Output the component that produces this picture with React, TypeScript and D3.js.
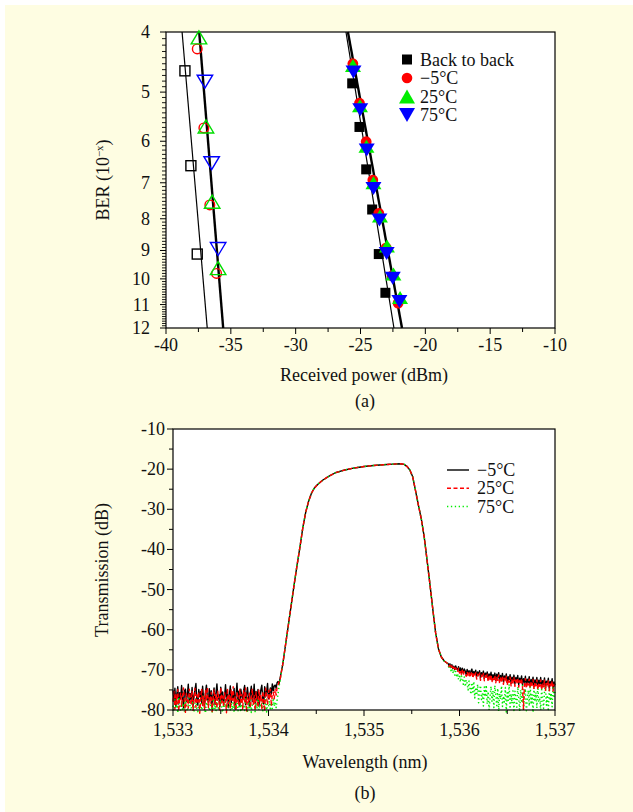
import React from 'react';
import * as d3 from 'd3';

const FONT = '"Liberation Serif", "Times New Roman", Times, serif';

// ---------- (a) BER vs received power ----------
const powerTicks = [-40, -35, -30, -25, -20, -15, -10];
const berTicks = [4, 5, 6, 7, 8, 9, 10, 11, 12];

// filled markers (right group)
const b2bPower = [-25.64, -25.08, -24.56, -24.1, -23.59, -23.08];
const b2bBer = [4.84, 5.69, 6.66, 7.73, 9.12, 10.53];
const m5Power = [-25.59, -25.08, -24.56, -24.05, -23.59, -23.02, -22.56, -22.1];
const m5Ber = [4.5, 5.21, 6.01, 6.93, 7.84, 8.91, 9.89, 10.94];
const t25Power = [-25.58, -25.04, -24.54, -24.0, -23.5, -22.96, -22.46, -21.95];
const t25Ber = [4.53, 5.26, 6.11, 7.0, 7.92, 8.85, 9.82, 10.72];
const t75Power = [-25.54, -25.02, -24.52, -24.0, -23.54, -22.98, -22.51, -22.0];
const t75Ber = [4.64, 5.34, 6.2, 7.15, 8.04, 9.1, 9.98, 10.88];

// open markers (left group)
const b2bOpenPower = [-38.54, -38.08, -37.59];
const b2bOpenBer = [4.62, 6.57, 9.12];
const m5OpenPower = [-37.59, -37.08, -36.62, -36.1];
const m5OpenBer = [4.26, 5.71, 7.6, 9.8];
const t25OpenPower = [-37.46, -36.92, -36.44, -35.98];
const t25OpenBer = [4.08, 5.68, 7.51, 9.61];
const t75OpenPower = [-37.0, -36.48, -35.98];
const t75OpenBer = [4.81, 6.51, 8.95];

// fitted lines: [power at BER 4, power at BER 12]
const fitLeftThin = [-38.76, -36.82];
const fitLeftThick = [-37.44, -35.59];
const fitRightThin = [-26.12, -22.42];
const fitRightThick = [-25.97, -21.8];

const legendA = ['Back to back', '\u22125\u00B0C', '25\u00B0C', '75\u00B0C'];

// ---------- (b) transmission spectrum ----------
const wlTicks = [1533, 1534, 1535, 1536, 1537];
const dbTicks = [-10, -20, -30, -40, -50, -60, -70, -80];
const legendB = ['\u22125\u00B0C', '25\u00B0C', '75\u00B0C'];

// noise floor 1533.00 .. 1534.12 (0.01 nm step)
const floorM5 = [
  -75.1, -77.8, -74.6, -79.2, -76.0, -74.2, -78.5, -75.7, -77.1, -73.9,
  -76.8, -79.5, -75.3, -74.8, -77.9, -76.2, -73.6, -78.1, -75.9, -77.4,
  -74.4, -79.0, -76.5, -75.0, -73.4, -77.6, -78.8, -74.9, -76.7, -75.4,
  -78.3, -74.1, -77.0, -79.3, -75.6, -73.8, -76.9, -78.0, -74.7, -77.3,
  -75.2, -79.6, -76.3, -74.5, -78.6, -75.8, -73.5, -77.2, -76.1, -79.1,
  -74.3, -77.7, -75.5, -78.4, -76.6, -73.7, -77.5, -75.0, -79.4, -76.4,
  -74.0, -78.2, -75.9, -77.1, -74.6, -79.7, -76.0, -73.3, -77.8, -75.3,
  -78.9, -74.8, -76.5, -77.4, -75.1, -73.9, -78.7, -76.2, -74.4, -77.0,
  -79.2, -75.7, -74.1, -77.9, -76.8, -73.6, -78.3, -75.4, -77.6, -74.9,
  -79.0, -76.3, -75.0, -73.8, -77.3, -78.5, -74.2, -76.7, -75.6, -73.4,
  -77.2, -75.8, -74.5, -76.0, -73.5, -75.2, -74.0, -73.8, -74.6, -73.2,
  -72.9, -73.5, -72.3,
];
const floor25 = [
  -77.9, -75.4, -79.8, -76.1, -78.6, -74.9, -80.3, -77.2, -75.8, -79.1,
  -76.4, -74.5, -78.2, -80.6, -75.9, -77.7, -79.5, -74.8, -76.9, -78.8,
  -75.2, -80.1, -77.4, -74.6, -79.3, -76.2, -78.0, -75.5, -80.8, -77.0,
  -74.7, -78.9, -76.6, -79.9, -75.1, -77.8, -74.3, -79.4, -76.8, -78.3,
  -75.6, -80.4, -77.1, -74.9, -78.7, -76.0, -79.6, -75.3, -77.5, -80.0,
  -74.4, -78.1, -76.5, -79.2, -75.7, -77.3, -80.7, -74.6, -78.4, -76.3,
  -79.7, -75.0, -77.6, -74.2, -78.9, -76.7, -80.2, -75.4, -77.0, -79.0,
  -74.8, -78.5, -76.1, -79.8, -75.2, -77.9, -74.5, -80.5, -76.9, -78.2,
  -75.8, -79.4, -77.2, -74.7, -78.6, -76.4, -80.1, -75.5, -77.7, -79.3,
  -74.9, -78.0, -76.2, -79.9, -75.3, -77.4, -80.3, -74.6, -76.8, -78.7,
  -75.1, -77.5, -74.8, -79.0, -76.0, -75.6, -77.2, -74.9, -76.3, -74.4,
  -73.8, -73.0, -72.6,
];
const floor75 = [
  -78.9, -80.2, -77.4, -79.6, -78.1, -80.7, -76.8, -79.3, -80.0, -77.9,
  -79.8, -78.4, -80.5, -77.2, -79.0, -80.3, -78.6, -76.9, -79.7, -80.1,
  -77.8, -79.4, -80.6, -78.2, -77.0, -79.9, -80.4, -78.7, -79.2, -77.5,
  -80.0, -78.9, -76.6, -79.5, -80.8, -78.0, -79.1, -77.7, -80.2, -79.6,
  -78.3, -80.5, -77.1, -79.8, -78.8, -80.3, -76.9, -79.0, -80.1, -78.5,
  -77.6, -79.7, -80.6, -78.1, -79.3, -77.3, -80.4, -78.9, -79.5, -76.7,
  -80.0, -78.4, -79.9, -77.8, -80.7, -78.6, -79.2, -77.0, -80.2, -79.4,
  -78.2, -80.5, -77.5, -79.6, -78.7, -80.1, -76.8, -79.1, -80.3, -78.0,
  -79.8, -77.4, -80.6, -78.8, -79.0, -77.9, -80.4, -78.3, -79.7, -77.2,
  -80.0, -78.6, -79.3, -77.6, -80.2, -78.9, -79.5, -77.1, -80.5, -78.4,
  -79.1, -77.8, -80.1, -78.2, -79.6, -77.0, -79.0, -78.1, -79.4, -77.5,
  -76.0, -74.2, -72.8,
];

// pass band (shared shape)
const passWl = [
  1534.15, 1534.18, 1534.21, 1534.24, 1534.27, 1534.3, 1534.33, 1534.36, 1534.39, 1534.42,
  1534.45, 1534.48, 1534.52, 1534.57, 1534.63, 1534.7, 1534.8, 1534.9, 1535.0, 1535.1,
  1535.2, 1535.3, 1535.38, 1535.42, 1535.45, 1535.48, 1535.51, 1535.54, 1535.57, 1535.6,
  1535.63, 1535.66, 1535.69, 1535.72, 1535.75, 1535.78, 1535.81, 1535.84, 1535.87,
];
const passDb = [
  -68.5, -63.5, -58.5, -53.5, -48.5, -43.8, -39.3, -34.5, -30.7, -28.0,
  -26.0, -24.7, -23.7, -22.7, -21.8, -20.9, -20.2, -19.7, -19.35, -19.1,
  -18.9, -18.75, -18.65, -18.8, -19.3, -20.2, -21.9, -25.4, -29.0, -32.4,
  -36.8, -42.6, -48.6, -54.8, -60.8, -64.8, -66.8, -67.8, -68.3,
];

// tail 1535.88 .. 1537.00 (0.01 nm step)
const tailM5 = [
  -68.4, -68.9, -68.5, -69.4, -68.7, -69.6, -69.1, -69.9, -69.0, -69.7,
  -70.1, -69.2, -70.4, -69.5, -70.7, -69.6, -70.9, -69.8, -70.3, -71.2,
  -69.9, -70.8, -70.2, -71.4, -70.3, -69.8, -71.5, -70.4, -71.1, -70.1,
  -71.7, -70.5, -71.2, -70.2, -72.0, -70.7, -71.4, -70.3, -72.1, -70.8,
  -71.6, -70.5, -72.3, -71.0, -71.8, -70.6, -72.5, -71.2, -71.9, -70.8,
  -72.6, -71.1, -72.0, -70.7, -72.8, -71.4, -72.2, -70.9, -73.0, -71.5,
  -72.4, -71.0, -73.2, -71.7, -72.5, -71.2, -73.4, -71.8, -72.7, -71.3,
  -73.5, -71.9, -72.8, -71.4, -73.7, -72.1, -73.0, -71.5, -73.8, -72.2,
  -73.1, -71.6, -74.0, -72.3, -73.2, -71.7, -74.1, -72.4, -73.3, -71.8,
  -74.2, -72.5, -73.4, -71.9, -74.3, -72.6, -73.5, -71.9, -74.4, -72.7,
  -73.6, -72.0, -74.5, -72.8, -73.6, -72.1, -74.6, -72.9, -73.7, -72.2,
  -74.7, -73.0, -73.8,
];
const tail25 = [
  -68.7, -69.2, -68.8, -69.6, -69.0, -69.9, -69.3, -70.2, -69.5, -70.0,
  -70.5, -69.6, -70.8, -70.0, -71.1, -70.1, -71.3, -70.4, -70.9, -71.6,
  -70.5, -71.4, -70.7, -71.9, -70.9, -70.4, -72.1, -71.0, -71.6, -70.7,
  -72.3, -71.1, -71.8, -70.8, -72.6, -71.3, -72.0, -70.9, -72.7, -71.4,
  -72.2, -71.1, -72.9, -71.6, -72.4, -71.2, -73.1, -71.8, -72.5, -71.4,
  -73.2, -71.7, -72.6, -71.3, -73.4, -72.0, -72.8, -71.5, -73.6, -72.1,
  -73.0, -71.6, -73.8, -72.3, -73.1, -71.8, -74.0, -72.4, -73.3, -71.9,
  -74.1, -72.5, -73.4, -72.0, -74.3, -72.7, -73.6, -72.1, -74.4, -79.8,
  -73.7, -72.2, -74.6, -72.9, -73.8, -72.3, -74.5, -73.0, -73.9, -72.4,
  -74.8, -73.1, -74.0, -72.5, -74.9, -73.2, -74.1, -72.5, -75.0, -73.3,
  -74.2, -72.6, -75.1, -73.4, -74.2, -72.7, -75.2, -73.5, -74.3, -72.8,
  -75.3, -73.6, -74.4,
];
const tail75 = [
  -68.9, -69.5, -69.1, -70.2, -69.6, -70.8, -70.0, -71.3, -70.4, -71.9,
  -70.9, -72.4, -71.2, -73.0, -71.5, -72.2, -73.6, -71.8, -74.2, -72.5,
  -73.4, -75.0, -72.8, -74.6, -76.1, -73.2, -75.5, -72.9, -77.0, -74.4,
  -76.3, -73.6, -78.2, -75.1, -73.9, -77.4, -75.8, -79.0, -74.3, -76.7,
  -73.8, -78.5, -75.4, -80.0, -76.9, -74.1, -77.8, -75.2, -79.4, -73.9,
  -76.2, -78.9, -74.6, -80.3, -75.9, -77.3, -74.0, -79.1, -76.5, -78.0,
  -74.4, -80.5, -75.7, -77.6, -73.6, -79.7, -76.0, -78.4, -74.8, -80.1,
  -75.3, -77.1, -79.3, -74.2, -76.8, -80.4, -75.0, -78.2, -73.9, -79.8,
  -76.4, -74.7, -80.2, -77.5, -75.1, -79.0, -73.8, -78.6, -76.2, -80.6,
  -74.5, -77.9, -75.6, -79.5, -73.7, -78.1, -76.9, -80.0, -74.9, -77.2,
  -79.6, -75.4, -73.9, -78.8, -76.3, -80.3, -74.6, -77.7, -75.8, -79.2,
  -74.1, -76.6, -75.5,
];

// ---------- layout ----------
const W = 633;
const H = 812;
const xA = d3.scaleLinear().domain([-40, -10]).range([166, 555]);
const yA = d3.scaleLog().domain([4, 12]).range([32, 328]);
const xB = d3.scaleLinear().domain([1533, 1537]).range([173, 555]);
const yB = d3.scaleLinear().domain([-80, -10]).range([710, 429]);

function buildSeries(floor: number[], tail: number[]): [number, number][] {
  const pts: [number, number][] = [];
  floor.forEach((v, i) => pts.push([1533 + i * 0.01, v]));
  passWl.forEach((w, i) => pts.push([w, passDb[i]]));
  tail.forEach((v, i) => pts.push([1535.88 + i * 0.01, v]));
  return pts;
}

const seriesB = [
  { name: legendB[0], data: buildSeries(floorM5, tailM5), color: '#000000', dash: undefined as string | undefined, width: 1.4 },
  { name: legendB[2], data: buildSeries(floor75, tail75), color: '#00ee00', dash: '1.3,2.6', width: 1.5 },
  { name: legendB[1], data: buildSeries(floor25, tail25), color: '#ff0000', dash: '4,2.5', width: 1.4 },
];

const lineB = d3
  .line<[number, number]>()
  .x((d) => xB(d[0]))
  .y((d) => yB(Math.max(d[1], -81.2)));

function triUp(cx: number, cy: number, w: number, h: number) {
  return `M${cx},${cy - h / 2}L${cx + w / 2},${cy + h / 2}L${cx - w / 2},${cy + h / 2}Z`;
}
function triDown(cx: number, cy: number, w: number, h: number) {
  return `M${cx},${cy + h / 2}L${cx + w / 2},${cy - h / 2}L${cx - w / 2},${cy - h / 2}Z`;
}

export default function App() {
  const minorBer = d3.range(40, 121).map((v) => v / 10).filter((v) => Math.abs(v - Math.round(v)) > 1e-6);
  const minorPower = d3.range(-37.5, -10, 5);
  const minorWl = d3.range(1533.5, 1537, 1);
  const minorDb = d3.range(-75, -10, 10);

  const fits = [
    { p: fitLeftThin, w: 1.2 },
    { p: fitLeftThick, w: 2.4 },
    { p: fitRightThin, w: 1.2 },
    { p: fitRightThick, w: 2.4 },
  ];

  const textStyle = { fontFamily: FONT, fontSize: 18, fill: '#111' } as const;

  return (
    <div style={{ position: 'absolute', left: 0, top: 0 }}>
      <svg width={W} height={H} style={{ display: 'block' }}>
        <rect x={0} y={0} width={W} height={H} fill="#ffffff" />
        <rect x={5} y={5} width={W - 5} height={H - 5} fill="#fefde2" />

        {/* ===== (a) ===== */}
        <rect x={166} y={32} width={555 - 166} height={328 - 32} fill="#ffffff" stroke="#000" strokeWidth={1.2} />
        {/* y ticks */}
        {berTicks.map((t) => (
          <g key={'yt' + t}>
            <line x1={166} x2={160} y1={yA(t)} y2={yA(t)} stroke="#000" strokeWidth={1} />
            <text x={150} y={yA(t)} textAnchor="end" dominantBaseline="central" {...textStyle}>
              {t}
            </text>
          </g>
        ))}
        {minorBer.map((t) => (
          <line key={'ym' + t} x1={166} x2={162} y1={yA(t)} y2={yA(t)} stroke="#000" strokeWidth={0.9} />
        ))}
        {/* x ticks */}
        {powerTicks.map((t) => (
          <g key={'xt' + t}>
            <line x1={xA(t)} x2={xA(t)} y1={328} y2={334} stroke="#000" strokeWidth={1} />
            <text x={xA(t)} y={351} textAnchor="middle" {...textStyle}>
              {String(t)}
            </text>
          </g>
        ))}
        {minorPower.map((t) => (
          <line key={'xm' + t} x1={xA(t)} x2={xA(t)} y1={328} y2={332} stroke="#000" strokeWidth={1} />
        ))}
        <text x={364} y={381} textAnchor="middle" {...textStyle}>
          Received power (dBm)
        </text>
        <text x={365} y={407} textAnchor="middle" {...textStyle}>
          (a)
        </text>
        <text transform="translate(109,180) rotate(-90)" textAnchor="middle" {...textStyle}>
          BER (10
          <tspan dy={-6} fontSize={11}>
            {'\u2212x'}
          </tspan>
          <tspan dy={6}>)</tspan>
        </text>

        {/* fit lines */}
        {fits.map((f, i) => (
          <line key={'fit' + i} x1={xA(f.p[0])} y1={yA(4)} x2={xA(f.p[1])} y2={yA(12)} stroke="#000" strokeWidth={f.w} />
        ))}

        {/* open markers */}
        {b2bOpenPower.map((p, i) => (
          <rect key={'bo' + i} x={xA(p) - 5} y={yA(b2bOpenBer[i]) - 5} width={10} height={10} fill="none" stroke="#000" strokeWidth={1.4} />
        ))}
        {m5OpenPower.map((p, i) => (
          <circle key={'mo' + i} cx={xA(p)} cy={yA(m5OpenBer[i])} r={4.8} fill="none" stroke="#ff0000" strokeWidth={1.4} />
        ))}
        {t25OpenPower.map((p, i) => (
          <path key={'to' + i} d={triUp(xA(p), yA(t25OpenBer[i]), 15.5, 13)} fill="none" stroke="#00dd00" strokeWidth={1.4} />
        ))}
        {t75OpenPower.map((p, i) => (
          <path key={'vo' + i} d={triDown(xA(p), yA(t75OpenBer[i]), 15.5, 13)} fill="none" stroke="#0000ff" strokeWidth={1.4} />
        ))}

        {/* filled markers */}
        {b2bPower.map((p, i) => (
          <rect key={'bf' + i} x={xA(p) - 5} y={yA(b2bBer[i]) - 5} width={10} height={10} fill="#000" />
        ))}
        {m5Power.map((p, i) => (
          <circle key={'mf' + i} cx={xA(p)} cy={yA(m5Ber[i])} r={5.4} fill="#ff0000" />
        ))}
        {t25Power.map((p, i) => (
          <path key={'tf' + i} d={triUp(xA(p), yA(t25Ber[i]), 16, 13)} fill="#00ee00" />
        ))}
        {t75Power.map((p, i) => (
          <path key={'vf' + i} d={triDown(xA(p), yA(t75Ber[i]), 16, 13)} fill="#0000ff" />
        ))}

        {/* legend (a) */}
        {legendA.map((label, i) => {
          const cy = 59.5 + i * 18.5;
          const cx = 407;
          let mark;
          if (i === 0) mark = <rect x={cx - 5} y={cy - 5} width={10} height={10} fill="#000" />;
          else if (i === 1) mark = <circle cx={cx} cy={cy} r={5.3} fill="#ff0000" />;
          else if (i === 2) mark = <path d={triUp(cx, cy, 16, 14)} fill="#00ee00" />;
          else mark = <path d={triDown(cx, cy, 16, 14)} fill="#0000ff" />;
          return (
            <g key={'la' + i}>
              {mark}
              <text x={420} y={cy} dominantBaseline="central" {...textStyle}>
                {label}
              </text>
            </g>
          );
        })}

        {/* ===== (b) ===== */}
        <rect x={173} y={429} width={555 - 173} height={710 - 429} fill="#ffffff" />
        {seriesB.map((s) => (
          <path
            key={'sb' + s.name}
            d={lineB(s.data) || ''}
            fill="none"
            stroke={s.color}
            strokeWidth={s.width}
            strokeDasharray={s.dash}
            strokeLinejoin="round"
          />
        ))}
        <rect x={173} y={429} width={555 - 173} height={710 - 429} fill="none" stroke="#000" strokeWidth={1.2} />
        {dbTicks.map((t) => (
          <g key={'ybt' + t}>
            <line x1={173} x2={167} y1={yB(t)} y2={yB(t)} stroke="#000" strokeWidth={1} />
            <text x={165} y={yB(t)} textAnchor="end" dominantBaseline="central" {...textStyle}>
              {String(t)}
            </text>
          </g>
        ))}
        {minorDb.map((t) => (
          <line key={'ybm' + t} x1={173} x2={169} y1={yB(t)} y2={yB(t)} stroke="#000" strokeWidth={1} />
        ))}
        {wlTicks.map((t) => (
          <g key={'xbt' + t}>
            <line x1={xB(t)} x2={xB(t)} y1={710} y2={716} stroke="#000" strokeWidth={1} />
            <text x={xB(t)} y={736} textAnchor="middle" {...textStyle}>
              {d3.format(',')(t)}
            </text>
          </g>
        ))}
        {minorWl.map((t) => (
          <line key={'xbm' + t} x1={xB(t)} x2={xB(t)} y1={710} y2={714} stroke="#000" strokeWidth={1} />
        ))}
        <text x={365} y={768} textAnchor="middle" {...textStyle}>
          Wavelength (nm)
        </text>
        <text x={365} y={799} textAnchor="middle" {...textStyle}>
          (b)
        </text>
        <text transform="translate(102,570) rotate(-90)" textAnchor="middle" dominantBaseline="central" {...textStyle}>
          Transmission (dB)
        </text>

        {/* legend (b) */}
        {[seriesB[0], seriesB[2], seriesB[1]].map((s, i) => {
          const cy = 470 + i * 18.3;
          return (
            <g key={'lb' + i}>
              <line x1={447} x2={469} y1={cy} y2={cy} stroke={s.color} strokeWidth={s.width} strokeDasharray={s.dash} />
              <text x={477} y={cy} dominantBaseline="central" {...textStyle}>
                {s.name}
              </text>
            </g>
          );
        })}
      </svg>
    </div>
  );
}
